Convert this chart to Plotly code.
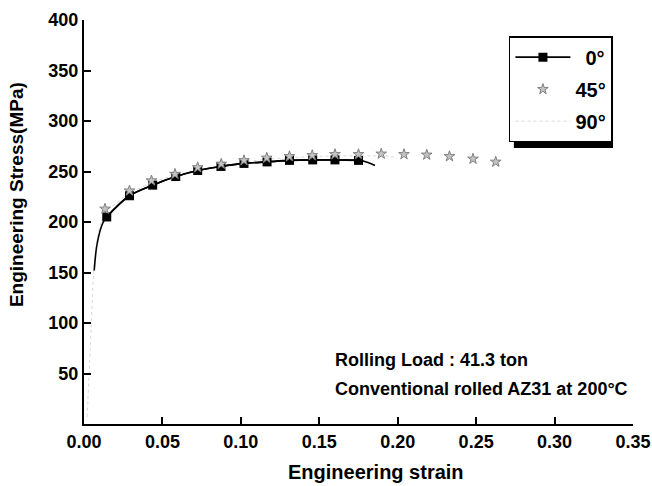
import plotly.graph_objects as go

# 0 degree: square markers
strain_0 = [0.0145, 0.029, 0.0438, 0.0585, 0.0725, 0.0873, 0.102, 0.1167, 0.131, 0.1458, 0.160, 0.175]
stress_0 = [205, 226, 236.5, 245, 251, 255, 258, 259.5, 261, 261.5, 261.5, 261]
# 0 degree: full continuous curve
curve0_strain = [0.0065, 0.008, 0.010, 0.012, 0.0145, 0.02, 0.029, 0.0438, 0.0585, 0.0725, 0.0873,
                 0.102, 0.1167, 0.131, 0.1458, 0.160, 0.175, 0.18, 0.1855]
curve0_stress = [152, 175, 190, 199, 205, 214, 226, 236.5, 245, 251, 255,
                 258, 259.5, 261, 261.5, 261.5, 261, 259.5, 256]

# 45 degree: star markers
strain_45 = [0.0134, 0.029, 0.043, 0.058, 0.0725, 0.0875, 0.102, 0.1165, 0.131, 0.1455, 0.160,
             0.175, 0.1895, 0.204, 0.2185, 0.233, 0.248, 0.2625]
stress_45 = [213, 231, 241, 247.5, 254, 257.5, 261, 263.5, 265, 266, 267,
             267, 267.5, 267, 266.5, 265, 262.5, 259.5]

# 90 degree: faint dotted line
strain_90 = [0.002, 0.004, 0.0055, 0.007, 0.010, 0.014, 0.02, 0.03, 0.045, 0.06, 0.075, 0.09,
             0.105, 0.12, 0.135, 0.15, 0.165, 0.18, 0.195, 0.2]
stress_90 = [7, 75, 130, 165, 195, 210, 218, 229, 240, 247, 252, 256,
             260, 262.5, 264, 265, 265.5, 265.5, 265, 263]

x_ticks = [0.0, 0.05, 0.10, 0.15, 0.20, 0.25, 0.30, 0.35]
y_ticks = [50, 100, 150, 200, 250, 300, 350, 400]

FONT = "Liberation Sans, Arial, sans-serif"

fig = go.Figure()

fig.add_trace(go.Scatter(
    x=strain_90, y=stress_90, mode="lines", name="90°",
    line=dict(color="#d8d8d8", width=1, dash="dot", shape="spline"),
    legendrank=3, legendgroup="c"))

fig.add_trace(go.Scatter(
    x=curve0_strain, y=curve0_stress, mode="lines", showlegend=False,
    line=dict(color="black", width=1.6, shape="spline")))

fig.add_trace(go.Scatter(
    x=strain_0, y=stress_0, mode="lines+markers", name="\u20020°",
    line=dict(color="black", width=1.6, shape="spline"),
    marker=dict(symbol="square", size=9, color="black"),
    legendrank=1, legendgroup="a"))

fig.add_trace(go.Scatter(
    x=strain_45, y=stress_45, mode="markers", name="45°",
    marker=dict(symbol="star", size=8, color="#c4c4c4",
                line=dict(color="#808080", width=1)),
    legendrank=2, legendgroup="b"))

fig.update_layout(
    width=652, height=486,
    margin=dict(l=84, r=19, t=20, b=62),
    paper_bgcolor="white", plot_bgcolor="white",
    font=dict(family=FONT, color="black"),
    showlegend=True,
    legend=dict(
        x=0.774, y=0.960, xanchor="left", yanchor="top",
        bgcolor="white", bordercolor="black", borderwidth=1.5,
        font=dict(family=FONT, size=20, color="black", weight="bold"),
        itemwidth=55, tracegroupgap=3,
        traceorder="grouped",
    ),
    xaxis=dict(
        range=[0, 0.35], tickvals=x_ticks, tickformat=".2f",
        showline=True, linecolor="black", linewidth=2,
        ticks="inside", ticklen=7, tickwidth=1.5, tickcolor="black",
        showgrid=False, zeroline=False, automargin=False,
        tickfont=dict(family=FONT, size=18, color="black", weight="bold"),
    ),
    yaxis=dict(
        range=[0, 400], tickvals=y_ticks,
        showline=True, linecolor="black", linewidth=2,
        ticks="inside", ticklen=7, tickwidth=1.5, tickcolor="black",
        showgrid=False, zeroline=False, automargin=False,
        tickfont=dict(family=FONT, size=18, color="black", weight="bold"),
    ),
)

# legend drop shadow
fig.add_shape(type="rect", xref="paper", yref="paper",
              x0=0.783, x1=0.9636, y0=0.683, y1=0.948,
              fillcolor="black", line=dict(width=0), layer="above")

fig.add_annotation(text="Engineering strain", xref="paper", yref="paper",
                   x=0.532, y=-0.119, xanchor="center", yanchor="middle", showarrow=False,
                   font=dict(family=FONT, size=20, color="black", weight="bold"))
fig.add_annotation(text="Engineering Stress(MPa)", xref="paper", yref="paper",
                   x=-0.1239, y=0.569, xanchor="center", yanchor="middle", showarrow=False,
                   textangle=-90,
                   font=dict(family=FONT, size=19, color="black", weight="bold"))
fig.add_annotation(text="Rolling Load : 41.3 ton", xref="paper", yref="paper",
                   x=0.4535, y=0.158, xanchor="left", yanchor="middle", showarrow=False,
                   font=dict(family=FONT, size=18, color="black", weight="bold"))
fig.add_annotation(text="Conventional rolled AZ31 at 200°C", xref="paper", yref="paper",
                   x=0.4535, y=0.0866, xanchor="left", yanchor="middle", showarrow=False,
                   font=dict(family=FONT, size=18, color="black", weight="bold"))

fig.write_html(
    "out.html",
    config={"displayModeBar": False},
    post_script="document.body.style.margin='0';document.body.style.overflow='hidden';"
                "document.documentElement.style.overflow='hidden';",
)
